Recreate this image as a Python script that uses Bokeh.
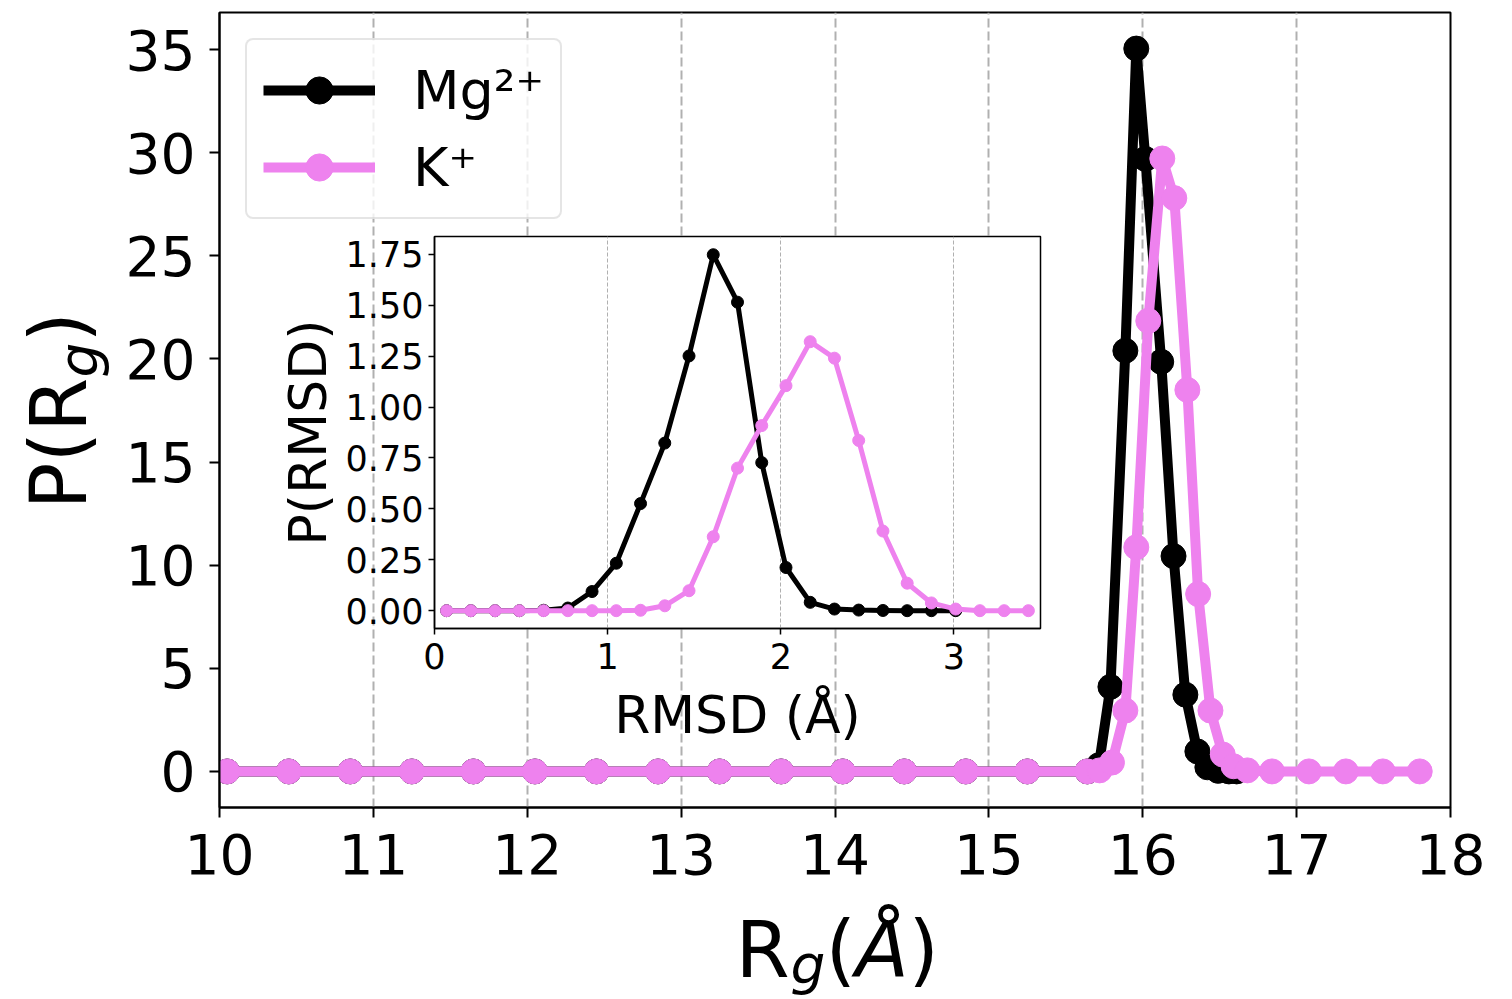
import math
from bokeh.plotting import figure
from bokeh.models import (Range1d, FixedTicker, Label, Legend, LegendItem,
                          NumeralTickFormatter)
from bokeh.layouts import column
from bokeh.embed import file_html
from bokeh.resources import INLINE

# ---------------- data ----------------
series_labels = ["Mg²⁺", "K⁺"]

rg_low = [10.05, 10.45, 10.85, 11.25, 11.65, 12.05, 12.45, 12.85,
          13.25, 13.65, 14.05, 14.45, 14.85, 15.25]

rg_mg = rg_low + [15.64, 15.715, 15.79, 15.887, 15.958, 16.017, 16.12, 16.20,
                  16.277, 16.355, 16.42, 16.49, 16.56, 16.61]
p_mg = [0.0] * 14 + [0.0, 0.3, 4.1, 20.4, 35.05, 29.7, 19.86, 10.44,
                     3.72, 0.97, 0.2, 0.03, 0.0, 0.0]

rg_k = rg_low + [15.64, 15.72, 15.80, 15.887, 15.958, 16.036, 16.127, 16.205,
                 16.29, 16.36, 16.44, 16.52, 16.59, 16.68, 16.84, 17.08,
                 17.32, 17.56, 17.80]
p_k = [0.0] * 14 + [0.0, 0.05, 0.43, 2.95, 10.87, 21.85, 29.72, 27.8,
                    18.5, 8.6, 2.95, 0.82, 0.25, 0.05, 0.0, 0.0,
                    0.0, 0.0, 0.0]

rmsd_mg = [0.07, 0.21, 0.35, 0.49, 0.63, 0.77, 0.91, 1.05, 1.19, 1.33, 1.47,
           1.61, 1.75, 1.89, 2.03, 2.17, 2.31, 2.45, 2.59, 2.73, 2.87, 3.01]
prmsd_mg = [0.0, 0.0, 0.0, 0.0, 0.002, 0.013, 0.094, 0.233, 0.526, 0.823,
            1.251, 1.748, 1.515, 0.727, 0.212, 0.041, 0.008, 0.003, 0.001,
            0.0, 0.0, 0.0]

rmsd_k = [0.07, 0.21, 0.35, 0.49, 0.63, 0.77, 0.91, 1.05, 1.19, 1.33, 1.47,
          1.61, 1.75, 1.89, 2.03, 2.17, 2.31, 2.45, 2.59, 2.73, 2.87, 3.01,
          3.15, 3.29, 3.43]
prmsd_k = [0.0, 0.0, 0.0, 0.0, 0.0, 0.0, 0.0, 0.0, 0.002, 0.024, 0.098,
           0.363, 0.70, 0.909, 1.105, 1.321, 1.24, 0.836, 0.391, 0.135,
           0.038, 0.008, 0.0, 0.0, 0.0]

main_xticks = [10, 11, 12, 13, 14, 15, 16, 17, 18]
main_yticks = [0, 5, 10, 15, 20, 25, 30, 35]
inset_xticks = [0, 1, 2, 3]
inset_yticks = [0.0, 0.25, 0.5, 0.75, 1.0, 1.25, 1.5, 1.75]

FONT = "DejaVu Sans"
MG_COLOR = "black"
K_COLOR = "violet"

# A bokeh column gives all its plots the same left/right borders,
# so every figure below uses the same ones.
W, H = 1504, 999
FL, FR, FT, FB = 219, 1450, 12, 807   # main frame edges on the page
BL, BR = FL, W - FR                   # shared left / right borders

# ---------------- main figure ----------------
p = figure(width=W, height=H, x_range=Range1d(10, 18), y_range=Range1d(-1.75, 36.8),
           output_backend="svg", toolbar_location=None, title=None,
           min_border_left=BL, min_border_right=BR, min_border_top=FT,
           min_border_bottom=H - FB)
p.background_fill_color = "white"
p.border_fill_color = "white"
p.outline_line_color = "black"
p.outline_line_width = 2

for ax, ticks in ((p.xaxis[0], main_xticks), (p.yaxis[0], main_yticks)):
    ax.ticker = FixedTicker(ticks=ticks)
    ax.major_label_text_font = FONT
    ax.major_label_text_font_size = "55px"
    ax.major_label_text_color = "black"
    ax.axis_line_color = "black"
    ax.axis_line_width = 2
    ax.major_tick_line_color = "black"
    ax.major_tick_line_width = 2
    ax.major_tick_out = 10
    ax.major_tick_in = 0
    ax.minor_tick_line_color = None
p.xaxis.major_label_standoff = 16
p.yaxis.major_label_standoff = 14

p.xgrid.ticker = FixedTicker(ticks=main_xticks)
p.xgrid.grid_line_color = "#b0b0b0"
p.xgrid.grid_line_width = 2
p.xgrid.grid_line_dash = "9 4"
p.ygrid.grid_line_color = None

l_mg = p.line(rg_mg, p_mg, line_color=MG_COLOR, line_width=10, line_join="round")
s_mg = p.scatter(rg_mg, p_mg, size=25, color=MG_COLOR)
l_k = p.line(rg_k, p_k, line_color=K_COLOR, line_width=10, line_join="round")
s_k = p.scatter(rg_k, p_k, size=25, color=K_COLOR)

legend = Legend(items=[LegendItem(label=series_labels[0], renderers=[l_mg, s_mg]),
                       LegendItem(label=series_labels[1], renderers=[l_k, s_k])],
                location="top_left", margin=26, padding=16, spacing=9,
                glyph_width=112, glyph_height=68, label_height=68,
                label_standoff=38, label_text_font=FONT,
                label_text_font_size="54px", label_text_color="black",
                border_line_color="#cccccc", border_line_width=2,
                background_fill_color="white", background_fill_alpha=0.8)
if "border_radius" in Legend.properties():
    legend.border_radius = 8
p.add_layout(legend)

# ---------------- inset figure ----------------
IFL, IFR, IFT, IFB = 434, 1040, 236, 628   # inset frame edges on the page
IT, IB = 10, 140
inset_left = IFL - BL
IW = BL + (IFR - IFL) + BR
IH = IT + (IFB - IFT) + IB
inset_top = IFT - IT
inset = figure(width=IW, height=IH, x_range=Range1d(0, 3.5),
               y_range=Range1d(-0.0875, 1.8375),
               output_backend="svg", toolbar_location=None, title=None,
               min_border_left=BL, min_border_right=BR, min_border_top=IT,
               min_border_bottom=IB,
               margin=(inset_top - H, 0, 0, inset_left))
inset.border_fill_color = None
inset.background_fill_color = "white"
inset.outline_line_color = "black"
inset.outline_line_width = 1.5

for ax, ticks in ((inset.xaxis[0], inset_xticks), (inset.yaxis[0], inset_yticks)):
    ax.ticker = FixedTicker(ticks=ticks)
    ax.major_label_text_font = FONT
    ax.major_label_text_font_size = "35px"
    ax.major_label_text_color = "black"
    ax.axis_line_color = "black"
    ax.axis_line_width = 1.5
    ax.major_tick_line_color = "black"
    ax.major_tick_line_width = 1.5
    ax.major_tick_out = 6
    ax.major_tick_in = 0
    ax.minor_tick_line_color = None
    ax.axis_label_text_font = FONT
    ax.axis_label_text_font_size = "52px"
    ax.axis_label_text_font_style = "normal"
    ax.axis_label_text_color = "black"
inset.xaxis.major_label_standoff = 8
inset.yaxis.major_label_standoff = 5
inset.yaxis.formatter = NumeralTickFormatter(format="0.00")
inset.xaxis.axis_label = "RMSD (Å)"
inset.yaxis.axis_label = "P(RMSD)"
inset.xaxis.axis_label_standoff = 13
inset.yaxis.axis_label_standoff = 5

inset.xgrid.ticker = FixedTicker(ticks=inset_xticks)
inset.xgrid.grid_line_color = "#b0b0b0"
inset.xgrid.grid_line_width = 1
inset.xgrid.grid_line_dash = "4 2"
inset.ygrid.grid_line_color = None

inset.line(rmsd_mg, prmsd_mg, line_color=MG_COLOR, line_width=5, line_join="round")
inset.scatter(rmsd_mg, prmsd_mg, size=12, color=MG_COLOR)
inset.line(rmsd_k, prmsd_k, line_color=K_COLOR, line_width=5, line_join="round")
inset.scatter(rmsd_k, prmsd_k, size=12, color=K_COLOR)

# ---------------- transparent overlay for the main axis titles ----------------
# shifted left by the shared border so that its frame starts at page x = 0
OFW = W - BL - BR
ov = figure(width=W, height=H, x_range=Range1d(0, OFW), y_range=Range1d(0, H),
            output_backend="svg", toolbar_location=None, title=None,
            x_axis_type=None, y_axis_type=None,
            min_border_left=BL, min_border_right=BR, min_border_top=0,
            min_border_bottom=0,
            margin=(-(inset_top + IH), 0, 0, -BL))
ov.outline_line_color = None
ov.background_fill_color = None
ov.border_fill_color = None
ov.xgrid.grid_line_color = None
ov.ygrid.grid_line_color = None

MID = 0.346   # em distance from the alphabetic baseline up to the text middle


def piece(text, px, py, size, italic=False, angle=0.0):
    # px, py: page position of the baseline start of the text
    if angle:
        px, py = px - MID * size, py
    else:
        px, py = px, py - MID * size
    ov.add_layout(Label(x=px, y=H - py, text=text,
                        text_font=FONT, text_font_size=f"{size}px",
                        text_font_style="italic" if italic else "normal",
                        text_color="black", angle=angle, text_align="left",
                        text_baseline="middle"))


BIG = 78
SUB = 55
# x title  R_g(Å)
piece("R", 735, 976, BIG)
piece("g", 790, 984, SUB, italic=True)
piece("(", 825, 976, BIG)
piece("Å", 855, 976, BIG, italic=True)
piece(")", 908, 976, BIG)
# y title  P(R_g)
A = math.pi / 2
piece("P(R", 85, 509, BIG, angle=A)
piece("g", 98, 377, SUB, italic=True, angle=A)
piece(")", 85, 342, BIG, angle=A)

root = column(p, inset, ov, spacing=0)
open("out.html", "w").write(file_html(root, INLINE))
